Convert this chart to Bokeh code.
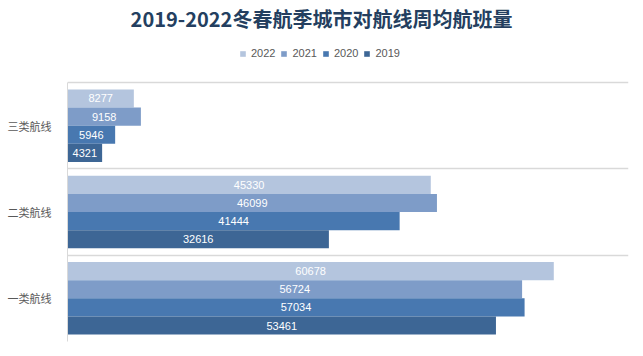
from bokeh.plotting import figure
from bokeh.models import Legend, LegendItem, ColumnDataSource, Range1d, FixedTicker, Label
from bokeh.core.properties import value
from bokeh.embed import file_html
from bokeh.resources import INLINE

title_text = "2019-2022冬春航季城市对航线周均航班量"
categories = ['三类航线', '二类航线', '一类航线']
years = ['2022', '2021', '2020', '2019']
v2022 = [8277, 45330, 60678]
v2021 = [9158, 46099, 56724]
v2020 = [5946, 41444, 57034]
v2019 = [4321, 32616, 53461]
colors = ['#B4C5DE', '#7E9CC8', '#4878B0', '#3D6695']

series = [v2022, v2021, v2020, v2019]
offsets = [0.315, 0.105, -0.105, -0.315]
n = len(categories)
# category centres (top category drawn highest)
centres = [n - i - 0.5 for i in range(n)]
top_room = 0.95  # empty band above the categories that holds title and legend

p = figure(width=643, height=356, output_backend="svg", toolbar_location=None, title=None,
           y_range=Range1d(0, n + top_room), x_range=Range1d(0, 70000),
           min_border_left=67, min_border_right=15, min_border_top=0, min_border_bottom=15)
p.outline_line_color = None
p.background_fill_color = "white"
p.border_fill_color = "white"

p.xaxis.visible = False
p.xgrid.visible = False
p.yaxis.ticker = FixedTicker(ticks=centres)
p.yaxis.major_label_overrides = {c: lab for c, lab in zip(centres, categories)}
p.yaxis.bounds = (0, n)
p.yaxis.axis_line_color = "#D9D9D9"
p.yaxis.major_tick_line_color = None
p.yaxis.minor_tick_line_color = None
p.yaxis.major_label_standoff = 10
p.yaxis.major_label_text_font = "Noto Sans CJK SC"
p.yaxis.major_label_text_font_size = "11px"
p.yaxis.major_label_text_color = "#595959"
p.ygrid.ticker = FixedTicker(ticks=list(range(n + 1)))
p.ygrid.grid_line_color = "#D9D9D9"
p.ygrid.grid_line_width = 1.5

items = []
for yr, vals, col, off in zip(years, series, colors, offsets):
    src = ColumnDataSource(dict(y=[c + off for c in centres], val=vals,
                                mid=[v / 2 for v in vals], lab=[str(v) for v in vals]))
    r = p.hbar(y='y', right='val', left=0, height=0.21,
               source=src, fill_color=col, line_color=None)
    p.text(x='mid', y='y', text='lab', source=src,
           text_align='center', text_baseline='middle', text_color='white',
           text_font=value("Liberation Sans"), text_font_size="11px")
    items.append(LegendItem(label=yr, renderers=[r]))

title = Label(x=254, y=323, x_units='screen', y_units='screen', text=title_text,
              text_align='center', text_baseline='middle',
              text_font="Noto Sans CJK SC", text_font_size="20px", text_font_style="bold",
              text_color="#243F60")
p.add_layout(title)

legend = Legend(items=items, orientation='horizontal', location=(172, 282),
                border_line_color=None, background_fill_alpha=0,
                label_text_font="Liberation Sans", label_text_font_size="11px",
                label_text_color="#595959", glyph_width=7, glyph_height=7,
                label_standoff=5, spacing=5, padding=0, margin=0)
p.add_layout(legend, 'center')

open("out.html", "w").write(file_html(p, INLINE))
